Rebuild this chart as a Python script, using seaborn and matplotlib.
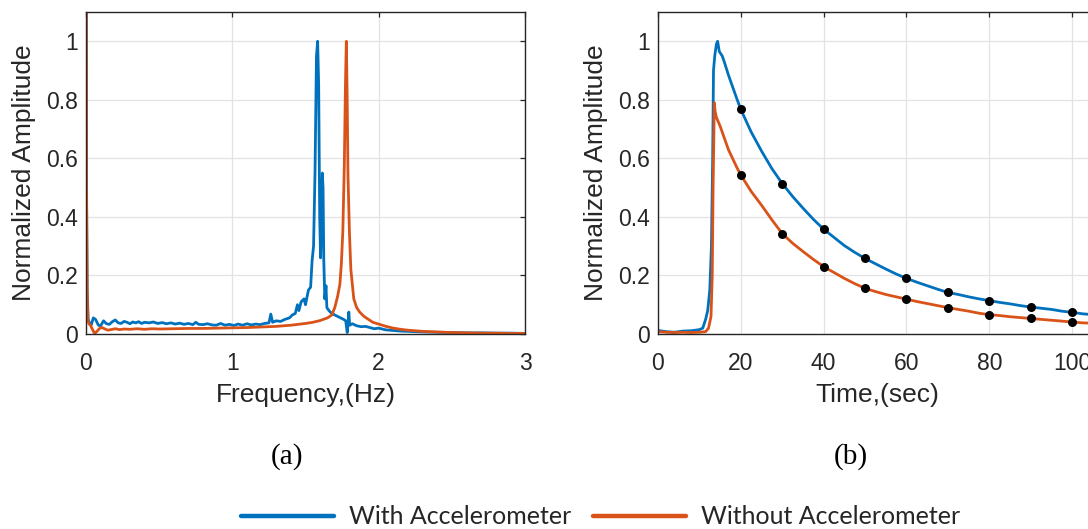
import matplotlib
matplotlib.use("Agg")
import matplotlib.pyplot as plt
import seaborn as sns
import pandas as pd

# ---- spectrum (a) ----
freq_with = [0.000, 0.004, 0.008, 0.015, 0.025, 0.035, 0.050, 0.065, 0.085, 0.100,
             0.120, 0.140, 0.160, 0.180, 0.200, 0.220, 0.240, 0.260, 0.280, 0.300,
             0.320, 0.340, 0.360, 0.380, 0.400, 0.430, 0.460, 0.490, 0.520, 0.550,
             0.580, 0.610, 0.640, 0.670, 0.700, 0.730, 0.750, 0.770, 0.800, 0.830,
             0.860, 0.890, 0.920, 0.950, 0.980, 1.010, 1.040, 1.070, 1.100, 1.130,
             1.160, 1.190, 1.220, 1.250, 1.263, 1.275, 1.300, 1.330, 1.360, 1.390,
             1.410, 1.430, 1.445, 1.455, 1.470, 1.490, 1.500, 1.520, 1.535, 1.545,
             1.555, 1.565, 1.575, 1.583, 1.590, 1.597, 1.603, 1.609, 1.615, 1.620,
             1.625, 1.632, 1.640, 1.646, 1.660, 1.680, 1.700, 1.720, 1.740, 1.760,
             1.775, 1.785, 1.790, 1.796, 1.802, 1.820, 1.850, 1.880, 1.910, 1.940,
             1.970, 2.000, 2.050, 2.100, 2.150, 2.200, 2.300, 2.400, 2.500, 2.600,
             2.700, 2.800, 2.900, 3.000]
amp_with = [2.000, 0.450, 0.150, 0.050, 0.035, 0.030, 0.055, 0.050, 0.030, 0.028,
            0.045, 0.035, 0.033, 0.042, 0.048, 0.038, 0.036, 0.043, 0.040, 0.035,
            0.041, 0.038, 0.042, 0.036, 0.040, 0.038, 0.041, 0.036, 0.039, 0.035,
            0.038, 0.034, 0.037, 0.033, 0.036, 0.032, 0.040, 0.033, 0.032, 0.035,
            0.031, 0.030, 0.036, 0.030, 0.033, 0.029, 0.034, 0.030, 0.035, 0.031,
            0.034, 0.032, 0.036, 0.038, 0.068, 0.040, 0.045, 0.043, 0.050, 0.055,
            0.065, 0.070, 0.100, 0.080, 0.110, 0.120, 0.100, 0.150, 0.160, 0.250,
            0.300, 0.550, 0.950, 1.000, 0.850, 0.400, 0.260, 0.400, 0.550, 0.500,
            0.250, 0.120, 0.165, 0.090, 0.080, 0.070, 0.065, 0.060, 0.055, 0.050,
            0.045, 0.005, 0.030, 0.075, 0.030, 0.035, 0.028, 0.025, 0.026, 0.022,
            0.018, 0.020, 0.014, 0.012, 0.010, 0.009, 0.007, 0.006, 0.005, 0.004,
            0.004, 0.003, 0.003, 0.002]

freq_without = [0.000, 0.004, 0.008, 0.012, 0.020, 0.030, 0.040, 0.055, 0.065, 0.080,
                0.095, 0.110, 0.130, 0.150, 0.170, 0.200, 0.230, 0.260, 0.300, 0.350,
                0.400, 0.450, 0.500, 0.600, 0.700, 0.800, 0.900, 1.000, 1.100, 1.200,
                1.300, 1.400, 1.500, 1.550, 1.600, 1.650, 1.680, 1.700, 1.720, 1.735,
                1.745, 1.755, 1.765, 1.773, 1.779, 1.785, 1.790, 1.800, 1.810, 1.820,
                1.830, 1.850, 1.870, 1.900, 1.930, 1.960, 2.000, 2.050, 2.100, 2.150,
                2.200, 2.300, 2.400, 2.500, 2.600, 2.700, 2.800, 2.900, 3.000]
amp_without = [2.000, 0.500, 0.150, 0.050, 0.035, 0.030, 0.020, 0.005, 0.004, 0.012,
               0.020, 0.022, 0.017, 0.013, 0.015, 0.018, 0.015, 0.017, 0.016, 0.018,
               0.016, 0.018, 0.017, 0.018, 0.019, 0.019, 0.020, 0.021, 0.022, 0.024,
               0.026, 0.030, 0.036, 0.040, 0.046, 0.055, 0.065, 0.090, 0.130, 0.170,
               0.240, 0.350, 0.570, 0.850, 1.000, 0.800, 0.550, 0.350, 0.220, 0.170,
               0.120, 0.090, 0.075, 0.060, 0.050, 0.040, 0.034, 0.026, 0.020, 0.016,
               0.013, 0.009, 0.007, 0.005, 0.004, 0.003, 0.003, 0.002, 0.002]

# ---- decay envelope (b) ----
time_with = [0, 2, 4, 6, 8, 10, 10.8, 11.5, 12.0, 12.5, 12.9, 13.2, 13.4, 13.7, 14.1,
             14.4, 14.8, 15.5, 16, 17, 18, 19, 20, 22.5, 25, 27.5, 30, 32.5, 35, 37.5,
             40, 42.5, 45, 47.5, 50, 52.5, 55, 57.5, 60, 62.5, 65, 67.5, 70, 72.5, 75,
             77.5, 80, 82.5, 85, 87.5, 90, 92.5, 95, 97.5, 100, 102.5, 105, 106]
env_with = [0.012, 0.008, 0.006, 0.010, 0.011, 0.015, 0.020, 0.050, 0.080, 0.150,
            0.300, 0.600, 0.900, 0.950, 0.990, 1.000, 0.965, 0.950, 0.930, 0.885,
            0.845, 0.805, 0.767, 0.690, 0.625, 0.565, 0.514, 0.470, 0.430, 0.392,
            0.358, 0.330, 0.302, 0.279, 0.258, 0.240, 0.222, 0.205, 0.190, 0.177,
            0.165, 0.153, 0.142, 0.135, 0.127, 0.120, 0.114, 0.108, 0.103, 0.097,
            0.092, 0.088, 0.084, 0.078, 0.074, 0.069, 0.066, 0.065]

time_without = [0, 2, 4, 6, 8, 10, 11.5, 12.2, 12.8, 13.1, 13.3, 13.6, 13.8, 14.1, 15,
                16, 17, 18, 19, 20, 22.5, 25, 27.5, 30, 32.5, 35, 37.5, 40, 42.5, 45,
                47.5, 50, 52.5, 55, 57.5, 60, 62.5, 65, 67.5, 70, 72.5, 75, 77.5, 80,
                82.5, 85, 87.5, 90, 92.5, 95, 97.5, 100, 102.5, 105, 106]
env_without = [0.008, 0.006, 0.005, 0.006, 0.005, 0.006, 0.008, 0.020, 0.060, 0.200,
               0.500, 0.790, 0.760, 0.740, 0.710, 0.670, 0.630, 0.600, 0.570, 0.543,
               0.487, 0.440, 0.390, 0.343, 0.310, 0.282, 0.255, 0.230, 0.210, 0.190,
               0.172, 0.156, 0.145, 0.135, 0.127, 0.119, 0.111, 0.104, 0.097, 0.090,
               0.084, 0.078, 0.071, 0.066, 0.063, 0.059, 0.056, 0.053, 0.050, 0.047,
               0.044, 0.041, 0.038, 0.037, 0.036]

# sampled peak amplitudes every 10 s
sample_t = [20, 30, 40, 50, 60, 70, 80, 90, 100]
sample_with = [0.767, 0.514, 0.358, 0.258, 0.190, 0.142, 0.114, 0.092, 0.074]
sample_without = [0.543, 0.343, 0.230, 0.156, 0.119, 0.090, 0.066, 0.053, 0.041]

series_names = ["With Accelerometer", "Without Accelerometer"]
series_colors = ["#0072BD", "#D95319"]

sns.set_style("white")
plt.rcParams["font.family"] = ["Liberation Sans", "DejaVu Sans"]
text_col = "#262626"

W, H = 1088, 529
fig = plt.figure(figsize=(W / 100, H / 100), dpi=100)
ax_a = fig.add_axes([86 / W, 195 / H, 439 / W, 322 / H])
ax_b = fig.add_axes([658 / W, 195 / H, 439 / W, 322 / H])

spec = pd.concat([
    pd.DataFrame({"f": freq_with, "a": amp_with, "s": series_names[0]}),
    pd.DataFrame({"f": freq_without, "a": amp_without, "s": series_names[1]}),
])
env = pd.concat([
    pd.DataFrame({"t": time_with, "a": env_with, "s": series_names[0]}),
    pd.DataFrame({"t": time_without, "a": env_without, "s": series_names[1]}),
])
samples = pd.DataFrame({"t": sample_t * 2, "a": sample_with + sample_without})

palette = dict(zip(series_names, series_colors))
for name in series_names:
    sub = spec[spec["s"] == name]
    sns.lineplot(data=sub, x="f", y="a", color=palette[name], lw=2.0,
                 ax=ax_a, label=name, estimator=None, sort=False)
for name in series_names:
    sub = env[env["s"] == name]
    sns.lineplot(data=sub, x="t", y="a", color=palette[name], lw=2.0,
                 ax=ax_b, estimator=None, sort=False)
sns.scatterplot(data=samples, x="t", y="a", color="black", s=42,
                edgecolor="black", linewidth=0, ax=ax_b, zorder=5)

handles, labels = ax_a.get_legend_handles_labels()
ax_a.legend_.remove()

for ax, xlim, xticks, xlabel in [
    (ax_a, (0, 3), [0, 1, 2, 3], "Frequency,(Hz)"),
    (ax_b, (0, 106), [0, 20, 40, 60, 80, 100], "Time,(sec)"),
]:
    ax.set_xlim(*xlim)
    ax.set_ylim(0, 1.1)
    ax.set_xticks(xticks)
    ax.set_xticklabels([str(v) for v in xticks])
    ax.set_yticks([0, 0.2, 0.4, 0.6, 0.8, 1.0])
    ax.set_yticklabels(["0", "0.2", "0.4", "0.6", "0.8", "1"])
    ax.grid(True, color="#e3e3e3", lw=0.9)
    ax.set_axisbelow(True)
    for sp in ax.spines.values():
        sp.set_color(text_col)
        sp.set_linewidth(1.0)
        sp.set_visible(True)
    ax.tick_params(axis="both", direction="in", length=3.8, width=0.9,
                   color=text_col, labelcolor=text_col, labelsize=16.5,
                   top=True, right=True)
    ax.tick_params(axis="x", pad=13)
    ax.tick_params(axis="y", pad=6)
    ax.set_xlabel(xlabel, fontsize=19, color=text_col)
    ax.set_ylabel("Normalized Amplitude", fontsize=19, color=text_col)
    ax.xaxis.set_label_coords(0.5, -0.19)
    ax.yaxis.label.set_verticalalignment("center")
    ax.xaxis.label.set_verticalalignment("center")
    ax.yaxis.set_label_coords(-0.141, 0.5)

fig.text(287 / W, 1 - 457 / H, "(a)", family="Liberation Serif", fontsize=21,
         ha="center", va="center", color="black")
fig.text(851 / W, 1 - 457 / H, "(b)", family="Liberation Serif", fontsize=21,
         ha="center", va="center", color="black")

leg = fig.legend(handles, labels, loc="center", bbox_to_anchor=(0.552, 1 - 517 / H),
                 ncol=2, frameon=False, prop={"family": "Lato", "size": 18},
                 handlelength=3.7, handletextpad=0.6, columnspacing=0.9)
for line in leg.get_lines():
    line.set_linewidth(3.2)

fig.savefig("out.png", dpi=100)
